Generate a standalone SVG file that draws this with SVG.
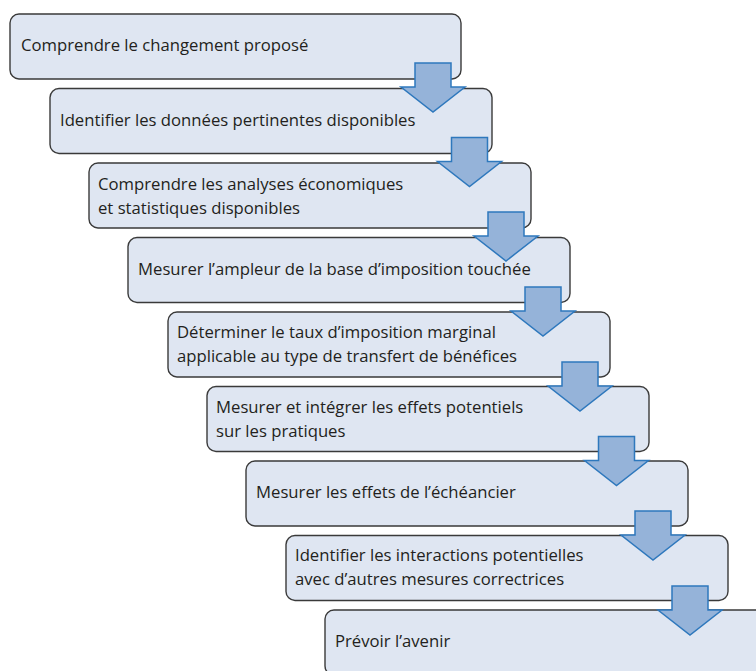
<svg xmlns="http://www.w3.org/2000/svg" width="756" height="671" viewBox="0 0 756 671">
  <defs>
    <style>
      .step rect { fill: #dfe6f2; stroke: #3a3a3a; stroke-width: 1.4; }
      .step text { font-family: "Open Sans", "Liberation Sans", sans-serif; font-size: 16.7px; fill: #231f20; }
      .arrow { fill: #95b3d9; stroke: #2e78bd; stroke-width: 1.5; stroke-linejoin: miter; }
    </style>
    <!-- down arrow, origin at top centre of the stem -->
    <polygon id="down" class="arrow" points="-18,0 18,0 18,24 32,24 0,49 -32,24 -18,24"/>
  </defs>
  <rect width="756" height="671" fill="#ffffff"/>

  <g id="step1" class="step">
    <rect x="10" y="14" width="451" height="65" rx="9"/>
    <text x="21" y="51">Comprendre le changement proposé</text>
  </g>
  <g id="step2" class="step">
    <rect x="50" y="88.5" width="442" height="65" rx="9"/>
    <text x="60" y="125.5">Identifier les données pertinentes disponibles</text>
  </g>
  <g id="step3" class="step">
    <rect x="89" y="163" width="442" height="65" rx="9"/>
    <text x="98" y="190">Comprendre les analyses économiques</text>
    <text x="98" y="214">et statistiques disponibles</text>
  </g>
  <g id="step4" class="step">
    <rect x="128" y="237.5" width="442" height="65" rx="9"/>
    <text x="138" y="274.5">Mesurer l’ampleur de la base d’imposition touchée</text>
  </g>
  <g id="step5" class="step">
    <rect x="168" y="312" width="442" height="65" rx="9"/>
    <text x="177" y="338">Déterminer le taux d’imposition marginal</text>
    <text x="177" y="362">applicable au type de transfert de bénéfices</text>
  </g>
  <g id="step6" class="step">
    <rect x="207" y="386.5" width="442" height="65" rx="9"/>
    <text x="216" y="413">Mesurer et intégrer les effets potentiels</text>
    <text x="216" y="437">sur les pratiques</text>
  </g>
  <g id="step7" class="step">
    <rect x="246" y="461" width="442" height="65" rx="9"/>
    <text x="256" y="498">Mesurer les effets de l’échéancier</text>
  </g>
  <g id="step8" class="step">
    <rect x="286" y="535.5" width="442" height="65" rx="9"/>
    <text x="295" y="561">Identifier les interactions potentielles</text>
    <text x="295" y="585">avec d’autres mesures correctrices</text>
  </g>
  <g id="step9" class="step">
    <rect x="325" y="610" width="442" height="65" rx="9"/>
    <text x="335" y="647">Prévoir l’avenir</text>
  </g>

  <g id="connectors">
    <use href="#down" x="433" y="63"/>
    <use href="#down" x="469.5" y="137.5"/>
    <use href="#down" x="506" y="212"/>
    <use href="#down" x="543" y="287"/>
    <use href="#down" x="580" y="362"/>
    <use href="#down" x="616.5" y="436.5"/>
    <use href="#down" x="653" y="511"/>
    <use href="#down" x="690" y="586"/>
  </g>
</svg>
